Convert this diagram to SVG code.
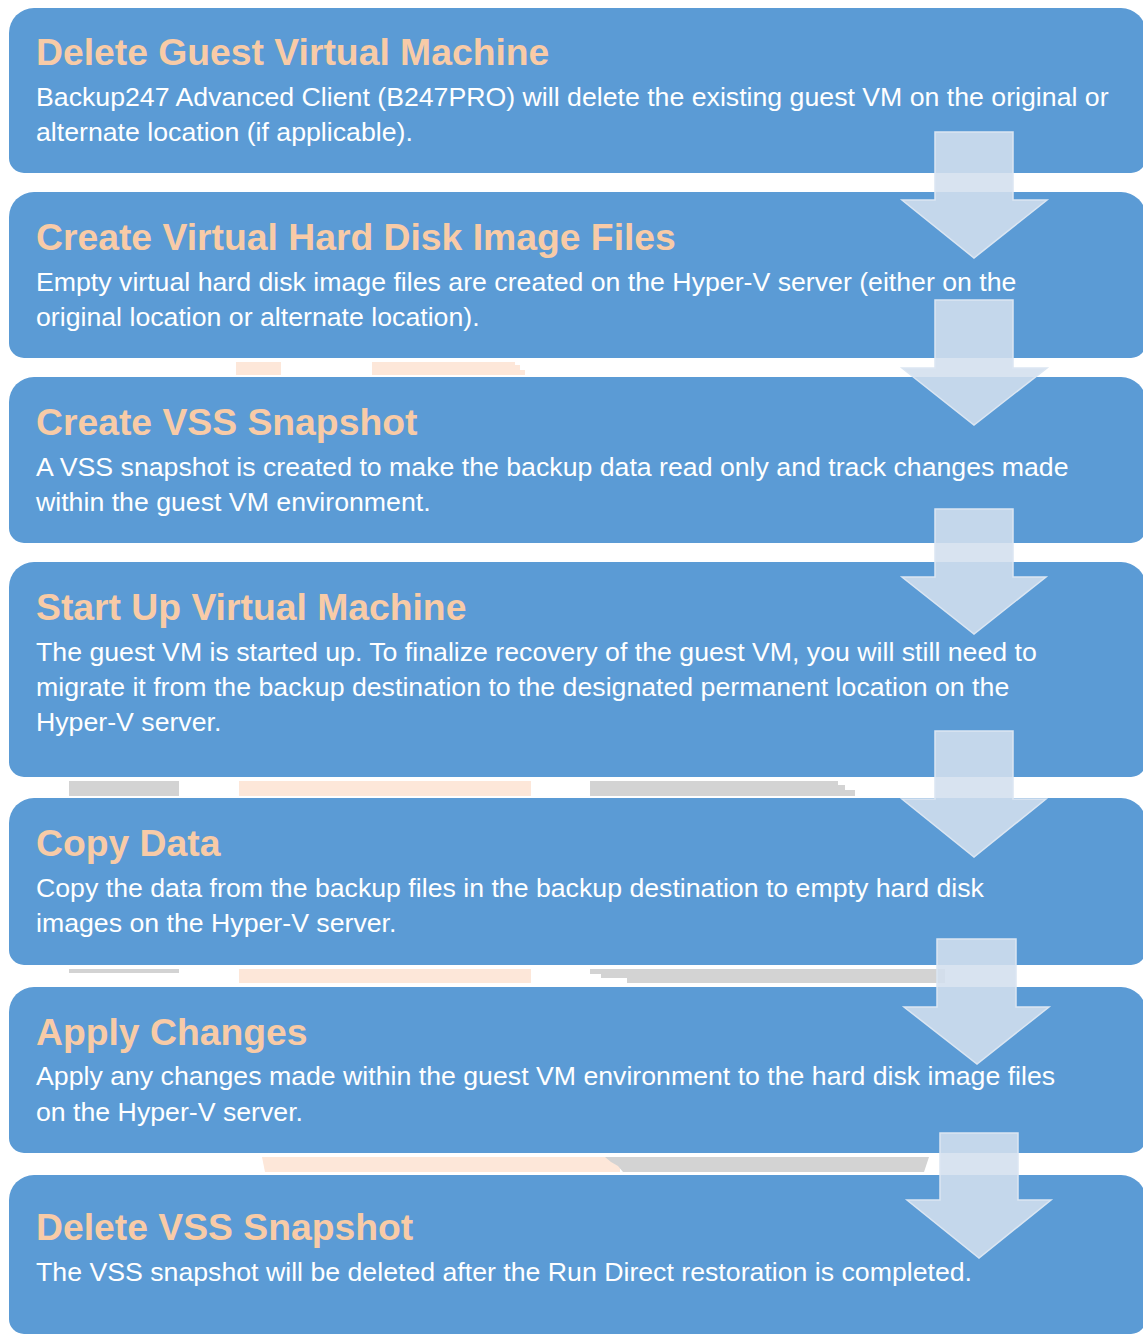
<svg xmlns="http://www.w3.org/2000/svg" width="1143" height="1334" viewBox="0 0 1143 1334">
<style>
.box{fill:#5b9bd5;}
.title{font-family:"Liberation Sans",Arial,sans-serif;font-weight:bold;font-size:37.3px;fill:#f8cba7;}
.desc{font-family:"Liberation Sans",Arial,sans-serif;font-size:26.7px;fill:#ffffff;}
.arrow{fill:#d3dfee;fill-opacity:0.88;stroke:#dbe6f2;stroke-width:1.5;}
.peach{fill:#fde7d9;}
.gray{fill:#d3d3d3;}
</style>
<rect x="0" y="0" width="1143" height="1334" fill="#ffffff"/>
<g id="artifacts">
<rect class="peach" x="236" y="362" width="45" height="13"/>
<polygon class="peach" points="372,362 515,362 515,365 520,365 520,370 525,370 525,375 372,375"/>
<rect class="gray" x="69" y="781" width="110" height="15"/>
<rect class="peach" x="239" y="781" width="292" height="15"/>
<polygon class="gray" points="590,781 838,781 838,785 845,785 845,790 855,790 855,796 590,796"/>
<rect class="gray" x="69" y="969" width="110" height="4"/>
<rect class="peach" x="239" y="969" width="292" height="14"/>
<polygon class="gray" points="590,969 945,969 945,983 627,983 627,978 601,978 601,974 590,974"/>
<polygon class="peach" points="262,1157 620,1157 620,1172 265,1172"/>
<polygon class="gray" points="605,1157 929,1157 924,1172 623,1172 618,1166 611,1162"/>
</g>
<g id="step1">
<path class="box" d="M34,8 H1121 A25,25 0 0 1 1146,33 V158 A15,15 0 0 1 1131,173 H24 A15,15 0 0 1 9,158 V33 A25,25 0 0 1 34,8 Z"/>
<text class="title" x="36" y="65">Delete Guest Virtual Machine</text>
<text class="desc" x="36" y="106">Backup247 Advanced Client (B247PRO) will delete the existing guest VM on the original or</text>
<text class="desc" x="36" y="141">alternate location (if applicable).</text>
</g>
<g id="step2">
<path class="box" d="M34,192 H1121 A25,25 0 0 1 1146,217 V343 A15,15 0 0 1 1131,358 H24 A15,15 0 0 1 9,343 V217 A25,25 0 0 1 34,192 Z"/>
<text class="title" x="36" y="250">Create Virtual Hard Disk Image Files</text>
<text class="desc" x="36" y="291">Empty virtual hard disk image files are created on the Hyper-V server (either on the</text>
<text class="desc" x="36" y="326">original location or alternate location).</text>
</g>
<g id="step3">
<path class="box" d="M34,377 H1121 A25,25 0 0 1 1146,402 V528 A15,15 0 0 1 1131,543 H24 A15,15 0 0 1 9,528 V402 A25,25 0 0 1 34,377 Z"/>
<text class="title" x="36" y="435">Create VSS Snapshot</text>
<text class="desc" x="36" y="476">A VSS snapshot is created to make the backup data read only and track changes made</text>
<text class="desc" x="36" y="511">within the guest VM environment.</text>
</g>
<g id="step4">
<path class="box" d="M34,562 H1121 A25,25 0 0 1 1146,587 V762 A15,15 0 0 1 1131,777 H24 A15,15 0 0 1 9,762 V587 A25,25 0 0 1 34,562 Z"/>
<text class="title" x="36" y="620">Start Up Virtual Machine</text>
<text class="desc" x="36" y="661">The guest VM is started up. To finalize recovery of the guest VM, you will still need to</text>
<text class="desc" x="36" y="696">migrate it from the backup destination to the designated permanent location on the</text>
<text class="desc" x="36" y="731">Hyper-V server.</text>
</g>
<g id="step5">
<path class="box" d="M34,798 H1121 A25,25 0 0 1 1146,823 V950 A15,15 0 0 1 1131,965 H24 A15,15 0 0 1 9,950 V823 A25,25 0 0 1 34,798 Z"/>
<text class="title" x="36" y="856">Copy Data</text>
<text class="desc" x="36" y="897">Copy the data from the backup files in the backup destination to empty hard disk</text>
<text class="desc" x="36" y="932">images on the Hyper-V server.</text>
</g>
<g id="step6">
<path class="box" d="M34,987 H1121 A25,25 0 0 1 1146,1012 V1138 A15,15 0 0 1 1131,1153 H24 A15,15 0 0 1 9,1138 V1012 A25,25 0 0 1 34,987 Z"/>
<text class="title" x="36" y="1045">Apply Changes</text>
<text class="desc" x="36" y="1085">Apply any changes made within the guest VM environment to the hard disk image files</text>
<text class="desc" x="36" y="1121">on the Hyper-V server.</text>
</g>
<g id="step7">
<path class="box" d="M34,1175 H1121 A25,25 0 0 1 1146,1200 V1319 A15,15 0 0 1 1131,1334 H24 A15,15 0 0 1 9,1319 V1200 A25,25 0 0 1 34,1175 Z"/>
<text class="title" x="36" y="1240">Delete VSS Snapshot</text>
<text class="desc" x="36" y="1281">The VSS snapshot will be deleted after the Run Direct restoration is completed.</text>
</g>
<g id="connectors">
<polygon class="arrow" points="935,132 1013,132 1013,200 1047,200 974,258 902,200 935,200"/>
<polygon class="arrow" points="935,300 1013,300 1013,368 1047,368 974,425 902,368 935,368"/>
<polygon class="arrow" points="935,509 1013,509 1013,577 1046,577 974,634 902,577 935,577"/>
<polygon class="arrow" points="935,731 1013,731 1013,799 1046,799 974,857 902,799 935,799"/>
<polygon class="arrow" points="937,939 1016,939 1016,1007 1049,1007 977,1064 904,1007 937,1007"/>
<polygon class="arrow" points="940,1133 1018,1133 1018,1200 1051,1200 979,1258 907,1200 940,1200"/>
</g>
</svg>
